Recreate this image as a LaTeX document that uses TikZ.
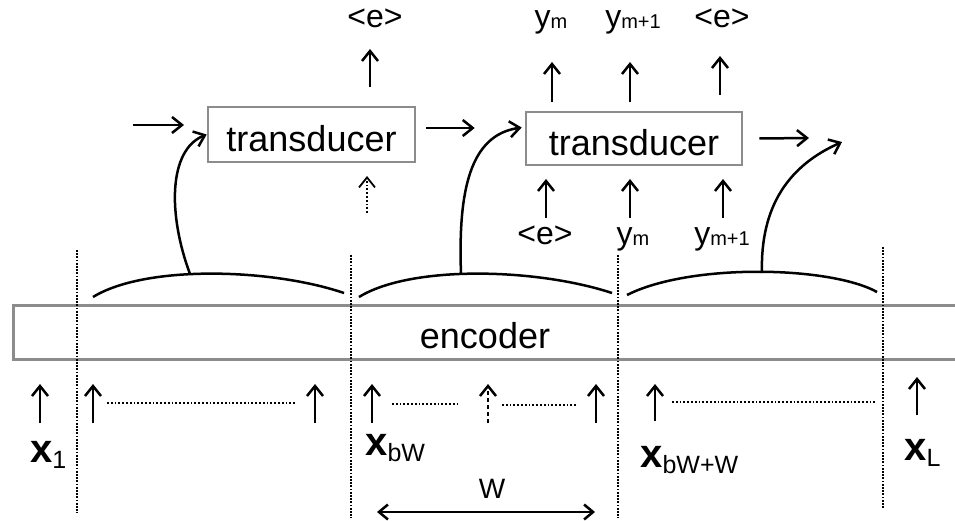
\documentclass[tikz,border=0pt]{standalone}
\usepackage{fontspec}
\setmainfont{Liberation Sans}
\usetikzlibrary{arrows.meta,calc}
\definecolor{boxgray}{HTML}{8C8C8C}
\newcommand\fsz[1]{\fontsize{#1}{#1}\selectfont}
% bold vector with a lowered subscript
\newcommand\vecx[1]{{\fsz{40}\bfseries x}\raisebox{-6pt}{\fsz{25}#1}}
\newcommand\ysub[1]{y{\fsz{20}\raisebox{-1pt}{#1}}}

\begin{document}
\begin{tikzpicture}[x=1pt,y=-1pt,line width=2.5pt,
  tip/.style={-{Straight Barb[length=10pt,width=16pt]}},
  bitip/.style={{Straight Barb[length=9pt,width=15pt]}-{Straight Barb[length=9pt,width=15pt]}},
  tbox/.style={draw=boxgray,line width=2.6pt,inner sep=0pt,font=\fsz{36},
    text height=34pt,text depth=0pt},
  lab/.style={inner sep=0pt,anchor=base,font=\fsz{32}},
  xlab/.style={inner sep=0pt,anchor=base west},
  window/.style={line width=2.2pt,dash pattern=on 1.8pt off 1.4pt},
  gap/.style={line width=1.8pt,dash pattern=on 1.8pt off 2pt},
  arc/.style={line width=2.5pt}]

\fill[white] (0,0) rectangle (955,521);
\clip (0,0) rectangle (955,521);

% encoder band running off the right edge
\node[draw=boxgray,line width=2.6pt,inner sep=0pt,minimum width=946pt,
  minimum height=54pt,anchor=north west] (enc) at (12,304) {};
\node[lab,font=\fsz{36}] (enctext) at (485,348) {encoder};

% transducer blocks
\node[tbox,minimum width=207pt,minimum height=55pt] (T1) at (311.5,134.5) {transducer};
\node[tbox,minimum width=216pt,minimum height=53pt] (T2) at (634,138.5) {transducer};

% window boundaries
\coordinate (w1t) at (77,250);  \coordinate (w1b) at (77,513);
\coordinate (w2t) at (351,255); \coordinate (w2b) at (351,518);
\coordinate (w3t) at (618,255); \coordinate (w3b) at (618,518);
\coordinate (w4t) at (883,247); \coordinate (w4b) at (883,508);
\foreach \i in {1,...,4} \draw[window] (w\i t) -- (w\i b);

% window summaries
\coordinate (a1s) at (93,297);  \coordinate (a1e) at (344,293);
\coordinate (a2s) at (359,297); \coordinate (a2e) at (612,293);
\coordinate (a3s) at (627,295); \coordinate (a3e) at (877,292);
\draw[arc] (a1s) .. controls (145,265) and (270,268) .. (a1e);
\draw[arc] (a2s) .. controls (411,265) and (536,268) .. (a2e);
\draw[arc] (a3s) .. controls (690,263) and (830,266) .. (a3e);
\coordinate (p1) at (190,274);
\coordinate (p2) at (461,274);
\coordinate (p3) at (762,273);

% encoder states feeding the transducer
\draw[tip] (p1) .. controls (168,215) and (168,150) .. (T1.west);
\draw[tip] (p2) .. controls (458,190) and (470,135) .. ($(T2.west)+(-3,-11)$);
\coordinate (nextin) at (842,142);
\draw[tip] (p3) .. controls (760,205) and (790,165) .. (nextin);

% recurrent state arrows
\coordinate (s0a) at (133,125); \coordinate (s0b) at (184,125);
\draw[tip] (s0a) -- (s0b);
\draw[tip] ($(T1.east)+(10,-6.5)$) -- ($(T2.west)+(-50,-10.5)$);
\coordinate (s2b) at (809,138);
\draw[tip] ($(T2.east)+(16,0)$) -- (s2b);

% first transducer outputs / inputs
\node[lab] (o1) at (375,28) {<e>};
\draw[tip] (370,87) -- (370,49);
\draw[tip,gap] (367,213) -- (367,176);

% second transducer outputs
\node[lab] (o2a) at (551,28) {\ysub{m}};
\node[lab] (o2b) at (633,28) {\ysub{m+1}};
\node[lab] (o2c) at (722,28) {<e>};
\draw[tip] (552,102) -- (552,62);
\draw[tip] (630,102) -- (630,62);
\draw[tip] (720,95) -- (720,56);

% second transducer inputs
\node[lab] (i2a) at (545,245) {<e>};
\node[lab] (i2b) at (633,245) {\ysub{m}};
\node[lab] (i2c) at (722,245) {\ysub{m+1}};
\draw[tip] (546,218) -- (546,179);
\draw[tip] (630,218) -- (630,179);
\draw[tip] (723,218) -- (723,179);

% input frames
\draw[tip] (40,423) -- (40,384);
\draw[tip] (93,423) -- (93,384);
\draw[gap] (107,403) -- (295,403);
\draw[tip] (315,423) -- (315,384);
\draw[tip] (372,423) -- (372,384);
\draw[gap] (392,404) -- (458,404);
\draw[tip,dash pattern=on 4pt off 3pt] (488,423) -- (488,384);
\draw[gap] (502,405) -- (577,405);
\draw[tip] (596,423) -- (596,384);
\draw[tip] (655,421) -- (655,384);
\draw[gap] (672,402) -- (875,402);
\draw[tip] (917,415) -- (917,377);

\node[xlab] (x1) at (29,462) {\vecx{1}};
\node[xlab] (xb) at (364,455) {\vecx{bW}};
\node[xlab] (xbw) at (639,467) {\vecx{bW+W}};
\node[xlab] (xL) at (903,460) {\vecx{L}};

% window width
\coordinate (wl) at (377,512); \coordinate (wr) at (595,512);
\draw[bitip] (wl) -- (wr);
\node[lab,font=\fsz{28}] (wlab) at (492,498) {W};
\end{tikzpicture}
\end{document}
